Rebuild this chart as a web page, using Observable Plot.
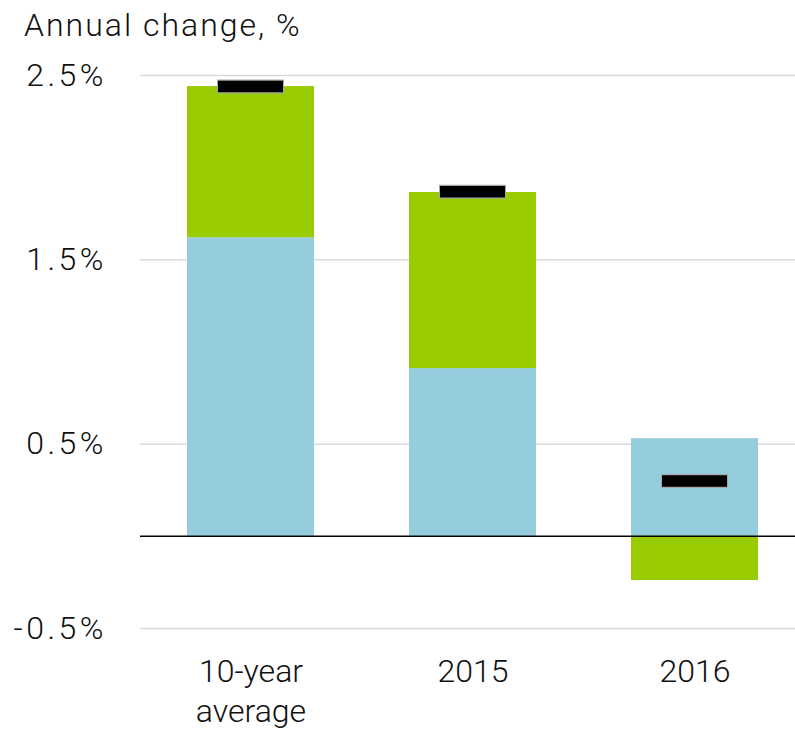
<!DOCTYPE html>
<html>
<head>
<meta charset="utf-8">
<script src="https://cdn.jsdelivr.net/npm/d3@7"></script>
<script src="https://cdn.jsdelivr.net/npm/@observablehq/plot@0.6"></script>
<style>
  html, body { margin: 0; padding: 0; background: #fff; }
  #wrap { width: 795px; height: 731px; position: relative; overflow: hidden; }
  #title { position: absolute; top: 0; left: 0; z-index: 1; font-family: Roboto, "Liberation Sans", sans-serif; font-weight: 300; font-size: 32px; letter-spacing: 2px;
           color: #111; height: 50px; line-height: 50px; padding-left: 24px; white-space: nowrap; }
  #chart { position: absolute; top: 40px; left: 0; }
  svg { display: block; }
  g[aria-label="y-axis tick label"] text { letter-spacing: 3.5px; }
</style>
</head>
<body>
<div id="wrap">
  <div id="title">Annual change, %</div>
  <div id="chart"></div>
</div>
<script>
const categories = ["10-year\naverage", "2015", "2016"];
const baseValues = [1.62, 0.91, 0.53];
const topValues = [0.82, 0.955, -0.24];
const totals = [2.44, 1.87, 0.30];
const yTicks = [-0.5, 0.5, 1.5, 2.5];
const seriesNames = ["Component 1", "Component 2"];
const seriesColors = ["#96CDDE", "#99CC00"];

const rows = [];
categories.forEach((c, i) => {
  rows.push({category: c, series: seriesNames[0], value: baseValues[i]});
  rows.push({category: c, series: seriesNames[1], value: topValues[i]});
});
const markers = categories.map((c, i) => ({category: c, value: totals[i]}));

const chart = Plot.plot({
  width: 795,
  height: 691,
  marginTop: 35,
  marginBottom: 103,
  marginLeft: 140,
  marginRight: 0,
  x: {domain: categories, paddingInner: 0.428, paddingOuter: 0.189, align: 0.56, label: null},
  y: {domain: [-0.5, 2.5], label: null},
  color: {type: "ordinal", domain: seriesNames, range: seriesColors},
  style: {fontFamily: "Roboto, 'Liberation Sans', sans-serif", fontWeight: 300, color: "#111", background: "transparent"},
  marks: [
    Plot.gridY(yTicks, {stroke: "#d9d9d9", strokeOpacity: 1, strokeWidth: 1.5}),
    Plot.axisY(yTicks, {tickSize: 0, tickPadding: 33.5, tickFormat: d => d + "%", fontSize: 32, label: null}),
    Plot.axisX({tickSize: 0, tickPadding: 26, fontSize: 32, lineHeight: 1.23, label: null}),
    Plot.barY(rows, {x: "category", y: "value", fill: "series", order: seriesNames}),
    Plot.ruleY([0], {stroke: "#000", strokeWidth: 1.5}),
    Plot.tickY(markers, {x: "category", y: "value", stroke: "#a6a6a6", strokeWidth: 14, insetLeft: 30, insetRight: 30}),
    Plot.tickY(markers, {x: "category", y: "value", stroke: "#000", strokeWidth: 11.5, insetLeft: 31, insetRight: 31})
  ]
});
document.getElementById("chart").appendChild(chart);
</script>
</body>
</html>
